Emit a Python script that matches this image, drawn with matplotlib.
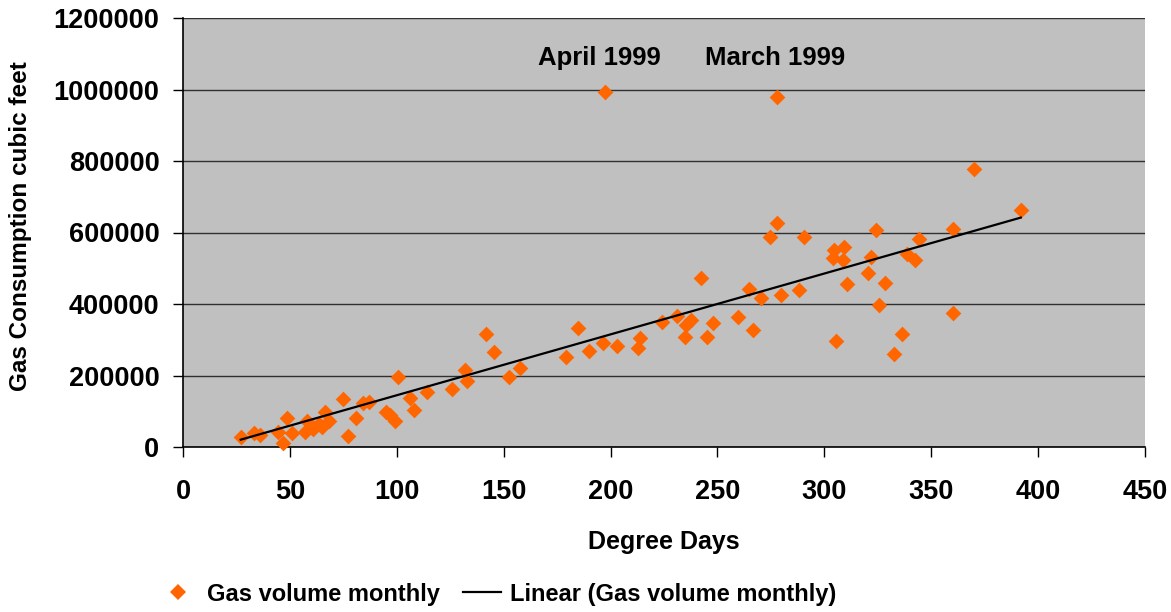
import numpy as np
import matplotlib
matplotlib.use("Agg")
import matplotlib.pyplot as plt
from matplotlib.lines import Line2D
from matplotlib.ticker import FuncFormatter

# Degree days (x) and monthly gas volume in cubic feet (y)
degree_days = [
    27, 33, 36, 44.5, 47, 48.5, 51, 57, 58, 61, 63.5, 65, 66.5, 68.5,
    75, 77, 81, 84, 87, 95, 97, 99, 100.6, 106, 108, 114,
    126, 132, 133, 141.6, 145.5, 152.5, 157.5,
    179, 185, 190, 196.4, 203, 213, 214,
    224, 231, 234.6, 235.3, 237.7, 242.5, 245, 248, 259.5, 264.6, 266.5,
    270.4, 274.8, 277.7, 279.8, 288.3, 290.7,
    303.9, 304.7, 305.5, 308.6, 309.3, 310.6,
    320.6, 322, 324.4, 325.4, 328.5, 332.4, 336.3, 338.5, 342.5, 344.4,
    360.3, 360.3, 370, 391.9,
    197.2, 277.7,
]
gas_volume = [
    28800, 39000, 33000, 43000, 12000, 80000, 40000, 43000, 72000, 50000, 64000, 55000, 99000, 72000,
    134000, 31000, 80000, 124000, 127000, 99000, 90000, 74000, 197000, 136000, 103000, 155000,
    161000, 215000, 185000, 316000, 266000, 197000, 220000,
    253000, 334000, 268000, 292000, 283000, 276000, 304000,
    349000, 366000, 308000, 342000, 356000, 472000, 309000, 346000, 364000, 442000, 327000,
    418000, 588000, 627000, 425000, 439000, 587000,
    528000, 551000, 296000, 523000, 559000, 456000,
    486000, 531000, 607000, 397000, 458000, 259000, 315000, 539000, 523000, 582000,
    610000, 374000, 777000, 663000,
    993000, 980000,
]
annotations = ["April 1999", "March 1999"]
annotation_x = [194.6, 276.9]
annotation_y = 1088000

x_ticks = list(range(0, 451, 50))
y_ticks = list(range(0, 1200001, 200000))

FONT = "Liberation Sans"
fig = plt.figure(figsize=(11.71, 6.12), dpi=100)
ax = fig.add_axes([183/1171, 1-447/612, (1145-183)/1171, (447-18)/612])
ax.set_facecolor("#C0C0C0")

ax.set_xlim(0, 450)
ax.set_ylim(0, 1200000)
ax.set_xticks(x_ticks)
ax.set_yticks(y_ticks)
ax.yaxis.set_major_formatter(FuncFormatter(lambda v, p: f"{int(round(v))}"))
ax.set_axisbelow(True)
ax.yaxis.grid(True, color="#303030", linewidth=1.0)
for s in ["top", "right"]:
    ax.spines[s].set_visible(False)
for s in ["left", "bottom"]:
    ax.spines[s].set_color("black")
    ax.spines[s].set_linewidth(1.2)

ax.tick_params(axis="x", direction="out", length=7, width=1, pad=16, labelsize=19.5)
ax.tick_params(axis="y", direction="out", length=7, width=1, pad=10, labelsize=19.5)
for lab in ax.get_xticklabels() + ax.get_yticklabels():
    lab.set_fontfamily(FONT)
    lab.set_fontweight("bold")

xs = np.array(degree_days)
ys = np.array(gas_volume)
ax.scatter(xs, ys, marker="D", s=8.0**2, color="#FF6600", linewidths=0, zorder=3, clip_on=False)

coef = np.polyfit(xs, ys, 1)
xl = np.array([xs.min(), xs.max()])
ax.plot(xl, np.polyval(coef, xl), color="black", linewidth=1.6, zorder=4)

for name, xv in zip(annotations, annotation_x):
    ax.text(xv, annotation_y, name, ha="center", va="center", fontsize=18.5,
            fontweight="bold", family=FONT)

ax.set_xlabel("Degree Days", fontsize=18, fontweight="bold", family=FONT)
ax.xaxis.set_label_coords(0.5, (447 - 530) / 429)
ax.set_ylabel("Gas Consumption cubic feet", fontsize=17.5, fontweight="bold", family=FONT)
ax.yaxis.set_label_coords((32 - 183) / 962, (447 - 226) / 429)

handles = [
    Line2D([], [], marker="D", linestyle="none", color="#FF6600", markersize=8.0, markeredgewidth=0),
    Line2D([], [], color="black", linewidth=1.6),
]
fig.legend(handles, ["Gas volume monthly", "Linear (Gas volume monthly)"],
           loc="center", bbox_to_anchor=(498/1171, 1-594/612), ncol=2, frameon=False,
           prop={"family": FONT, "weight": "bold", "size": 17},
           handlelength=1.6, handletextpad=0.4, columnspacing=1.0)

fig.savefig("out.png", dpi=100)
